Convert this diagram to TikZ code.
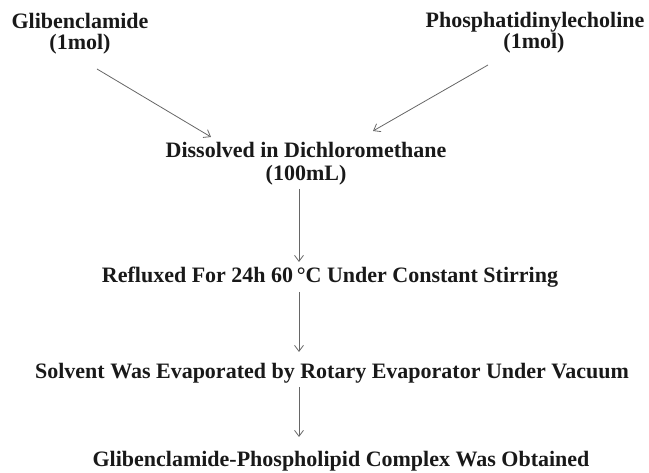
\documentclass[tikz,border=0pt]{standalone}
\usepackage{fontspec}
\setmainfont{Liberation Serif}
\usetikzlibrary{arrows.meta}
\begin{document}
\begin{tikzpicture}[x=1pt,y=1pt,
  lbl/.style={font=\bfseries\fontsize{22}{26}\selectfont, inner sep=0pt, anchor=base, text=black!90},
  arr/.style={draw=black!60, line width=0.8pt, -{Straight Barb[length=6pt,width=9pt]}}]
\useasboundingbox (0,0) rectangle (649,473);
\node[lbl] (g) at (80,444) {Glibenclamide};
\node[lbl] (g2) at (80,423) {(1mol)};
\node[lbl] (p) at (535,445) {Phosphatidinylecholine};
\node[lbl] (p2) at (534,424) {(1mol)};
\coordinate (ga) at (97,404);
\coordinate (pa) at (488,408);
\node[lbl] (d) at (306,315) {Dissolved in Dichloromethane};
\node[lbl] (d2) at (306,292) {(100mL)};
\coordinate (dt) at (211,336);
\coordinate (dt2) at (373,342);
\node[lbl] (r) at (330,190) {Refluxed For 24h 60\,°C Under Constant Stirring};
\node[lbl] (s) at (332,94) {Solvent Was Evaporated by Rotary Evaporator Under Vacuum};
\node[lbl] (f) at (341,6) {Glibenclamide-Phospholipid Complex Was Obtained};
\coordinate (a1s) at (299,284);
\coordinate (a1e) at (299,211);
\coordinate (a2s) at (299,181);
\coordinate (a2e) at (299,121);
\coordinate (a3s) at (299,86);
\coordinate (a3e) at (299,36);
\draw[arr] (ga) -- (dt);
\draw[arr] (pa) -- (dt2);
\draw[arr] (a1s) -- (a1e);
\draw[arr] (a2s) -- (a2e);
\draw[arr] (a3s) -- (a3e);
\end{tikzpicture}
\end{document}
